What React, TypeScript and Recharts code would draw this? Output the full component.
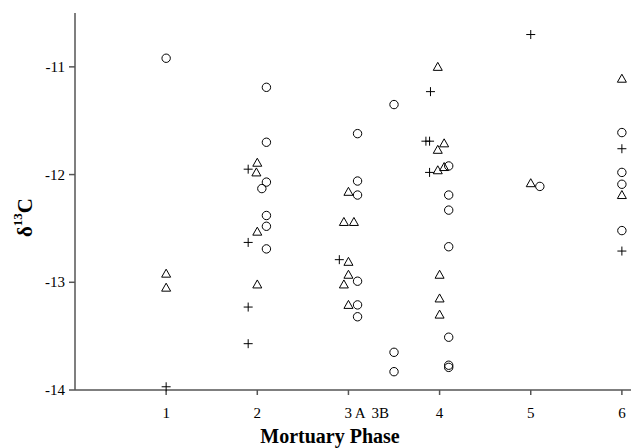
import { ScatterChart, Scatter, XAxis, YAxis } from 'recharts';

const phaseTicks = [1, 2, 3, 4, 5, 6];
const phaseLabels: Record<number, string> = { 1: '1', 2: '2', 3: '3 A', 4: '4', 5: '5', 6: '6' };
const valueTicks = [-14, -13, -12, -11];

const SERIF = '"Liberation Serif", "Times New Roman", serif';

// [phase position, δ13C]
const circles = [
  [1.0, -10.92],
  [2.1, -11.19], [2.1, -11.7], [2.1, -12.07], [2.05, -12.13], [2.1, -12.38], [2.1, -12.48], [2.1, -12.69],
  [3.1, -11.62], [3.1, -12.06], [3.1, -12.19], [3.1, -12.99], [3.1, -13.21], [3.1, -13.32],
  [3.5, -11.35], [3.5, -13.65], [3.5, -13.83],
  [4.1, -11.92], [4.1, -12.19], [4.1, -12.33], [4.1, -12.67], [4.1, -13.51], [4.1, -13.77], [4.1, -13.79],
  [5.1, -12.11],
  [6.0, -11.61], [6.0, -11.98], [6.0, -12.09], [6.0, -12.52],
];

const triangles = [
  [1.0, -12.92], [1.0, -13.05],
  [2.0, -11.89], [1.99, -11.98], [2.0, -12.53], [2.0, -13.02],
  [3.0, -12.16], [2.95, -12.44], [3.06, -12.44], [3.0, -12.81], [3.0, -12.93], [2.95, -13.02], [3.0, -13.21],
  [3.98, -11.0], [4.05, -11.71], [3.98, -11.77], [3.98, -11.96], [4.05, -11.93], [4.0, -12.93], [4.0, -13.15], [4.0, -13.3],
  [5.0, -12.08],
  [6.0, -11.11], [6.0, -12.19],
];

const pluses = [
  [1.0, -13.97],
  [1.9, -11.95], [1.9, -12.63], [1.9, -13.23], [1.9, -13.57],
  [2.9, -12.79],
  [3.9, -11.23], [3.85, -11.69], [3.89, -11.69], [3.89, -11.98],
  [5.0, -10.7],
  [6.0, -11.76], [6.0, -12.71],
];

const toRows = (pts: number[][]) => pts.map(([x, y]) => ({ x, y }));

const CircleMark = (p: any) => (
  <circle cx={p.cx} cy={p.cy} r={4.2} fill="none" stroke="#000" strokeWidth={1} />
);

const TriangleMark = (p: any) => {
  const { cx, cy } = p;
  return (
    <path
      d={`M${cx},${cy - 4.5}L${cx + 4.5},${cy + 3.5}L${cx - 4.5},${cy + 3.5}Z`}
      fill="none"
      stroke="#000"
      strokeWidth={1}
    />
  );
};

const PlusMark = (p: any) => {
  const { cx, cy } = p;
  return (
    <path d={`M${cx - 4.5},${cy}H${cx + 4.5}M${cx},${cy - 4.5}V${cy + 4.5}`} stroke="#000" strokeWidth={1} />
  );
};

const PhaseTick = (p: any) => {
  const { x, y, payload } = p;
  const v = payload.value;
  if (v === 3) {
    return (
      <g fontFamily={SERIF} fontSize={15} fill="#000">
        <text x={x - 4} y={y + 21} textAnchor="start">3 A</text>
        <text x={x + 23} y={y + 21} textAnchor="start">3B</text>
      </g>
    );
  }
  return (
    <text x={x} y={y + 21} textAnchor="middle" fontSize={15} fontFamily={SERIF} fill="#000">{phaseLabels[v]}</text>
  );
};

const ValueTick = (p: any) => {
  const { x, y, payload } = p;
  return (
    <text x={x - 2} y={y + 5} textAnchor="end" fontSize={15} fontFamily={SERIF} fill="#000">{payload.value}</text>
  );
};

const XLabel = () => (
  <text x={330} y={443} textAnchor="middle" fontSize={20} fontWeight="bold" fontFamily={SERIF} fill="#000">
    Mortuary Phase
  </text>
);

const YLabel = (p: any) => {
  const vb = p.viewBox;
  const cy = vb.y + vb.height / 2 + 16;
  return (
    <text
      x={25}
      y={cy}
      transform={`rotate(-90 25 ${cy})`}
      textAnchor="middle"
      dominantBaseline="central"
      fontSize={21}
      fontWeight="bold"
      fontFamily={SERIF}
      fill="#000"
    >
      δ<tspan fontSize={13} dy={-8}>13</tspan><tspan dy={8}>C</tspan>
    </text>
  );
};

export default function App() {
  return (
    <div style={{ position: 'absolute', left: 0, top: 0, background: '#fff', fontFamily: SERIF }}>
      <ScatterChart width={631} height={448} margin={{ top: 13, right: 0, bottom: 0, left: 0 }}>
        <XAxis
          type="number"
          dataKey="x"
          domain={[0, 6.1]}
          ticks={phaseTicks}
          tick={<PhaseTick />}
          tickSize={5}
          height={58}
          stroke="#555"
          strokeWidth={1.5}
          tickLine={{ stroke: '#555' }}
          label={<XLabel />}
        />
        <YAxis
          type="number"
          dataKey="y"
          domain={[-14, -10.5]}
          ticks={valueTicks}
          width={75}
          tickSize={6}
          stroke="#555"
          strokeWidth={1.5}
          tick={<ValueTick />}
          label={<YLabel />}
        />
        <Scatter data={toRows(circles)} shape={CircleMark} isAnimationActive={false} />
        <Scatter data={toRows(triangles)} shape={TriangleMark} isAnimationActive={false} />
        <Scatter data={toRows(pluses)} shape={PlusMark} isAnimationActive={false} />
      </ScatterChart>
    </div>
  );
}
